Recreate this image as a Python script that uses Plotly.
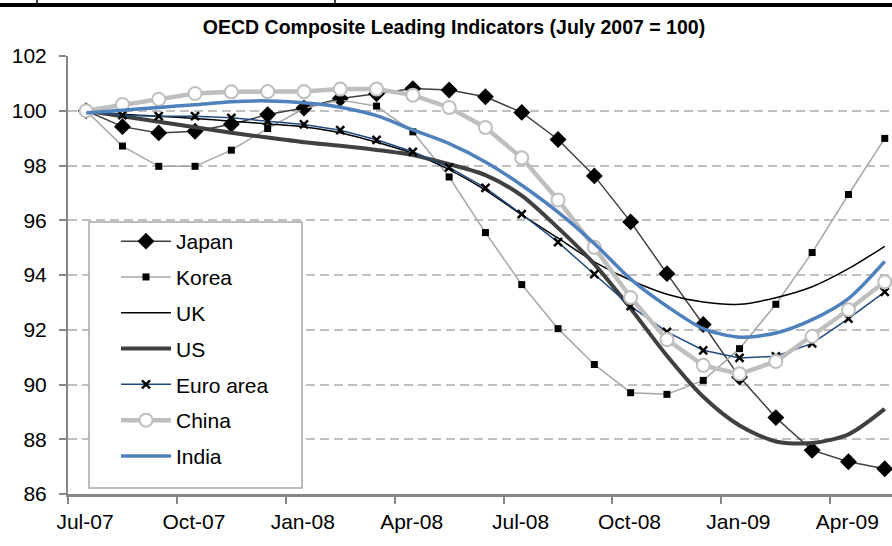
import plotly.graph_objects as go

months = ["Jul-07", "Aug-07", "Sep-07", "Oct-07", "Nov-07", "Dec-07",
          "Jan-08", "Feb-08", "Mar-08", "Apr-08", "May-08", "Jun-08",
          "Jul-08", "Aug-08", "Sep-08", "Oct-08", "Nov-08", "Dec-08",
          "Jan-09", "Feb-09", "Mar-09", "Apr-09", "May-09"]

japan = [100, 99.42, 99.19, 99.25, 99.51, 99.86, 100.1, 100.45, 100.62, 100.81, 100.76, 100.51,
         99.94, 98.95, 97.62, 95.94, 94.05, 92.19, 90.27, 88.79, 87.6, 87.18, 86.92]
korea = [100, 98.71, 97.97, 97.97, 98.56, 99.35, 100.08, 100.39, 100.17, 99.23, 97.58, 95.55,
         93.65, 92.04, 90.73, 89.70, 89.64, 90.15, 91.31, 92.93, 94.82, 96.94, 98.99]
uk = [100, 99.87, 99.8, 99.72, 99.62, 99.52, 99.41, 99.2, 98.85, 98.44, 97.85, 97.1,
      96.2, 95.35, 94.48, 93.81, 93.3, 93.01, 92.93, 93.17, 93.57, 94.23, 95.05]
us = [100, 99.8, 99.6, 99.4, 99.2, 99.02, 98.85, 98.72, 98.57, 98.38, 98.05, 97.65,
      96.9, 95.72, 94.4, 92.78, 91.05, 89.55, 88.5, 87.92, 87.86, 88.18, 89.11]
euro = [100, 99.84, 99.8, 99.8, 99.74, 99.62, 99.5, 99.29, 98.94, 98.5, 97.93, 97.18,
        96.22, 95.2, 94.03, 92.86, 91.92, 91.25, 90.97, 91.03, 91.5, 92.41, 93.38]
china = [100, 100.23, 100.42, 100.63, 100.69, 100.7, 100.7, 100.79, 100.79, 100.57, 100.12, 99.39,
         98.28, 96.74, 95.01, 93.18, 91.64, 90.7, 90.39, 90.84, 91.76, 92.73, 93.75]
india = [99.92, 100.02, 100.12, 100.22, 100.33, 100.36, 100.29, 100.13, 99.82, 99.3, 98.8, 98.13,
         97.28, 96.3, 95.15, 93.85, 92.86, 92.04, 91.73, 91.88, 92.37, 93.14, 94.5]

tick_labels = ["Jul-07", "Oct-07", "Jan-08", "Apr-08", "Jul-08", "Oct-08", "Jan-09", "Apr-09"]

x = list(range(len(months)))
FONT = "Liberation Sans, Arial, sans-serif"

fig = go.Figure()

def add(name, y, color, width, mode="lines", marker=None, shape="linear"):
    fig.add_trace(go.Scatter(
        x=x, y=y, name=name, mode=mode, legendgroup=name,
        line=dict(color=color, width=width, shape=shape, smoothing=0.8),
        marker=marker, customdata=months,
        hovertemplate="%{customdata}: %{y:.2f}<extra>" + name + "</extra>"))

add("Japan", japan, "#404040", 1.5, "lines+markers",
    dict(symbol="diamond", size=13, color="black"))
add("Korea", korea, "#a6a6a6", 1.5, "lines+markers",
    dict(symbol="square", size=7, color="black"))
add("UK", uk, "black", 1.5, shape="spline")
add("US", us, "#404040", 4, shape="spline")
add("Euro area", euro, "#1f497d", 1.5, "lines+markers",
    dict(symbol="x-thin-open", size=8, line=dict(color="black", width=2.5), color="black"))
add("China", china, "#bfbfbf", 4.5, "lines+markers",
    dict(symbol="circle", size=13, color="white", line=dict(color="#bfbfbf", width=2)))
add("India", india, "#4f81bd", 3.5, shape="spline")

L = 68
top_px = 56
bot_px = 494
plot_h = bot_px - top_px
plot_w = 892 - L

def px(xp):
    return (xp - L) / plot_w

def py(yp):
    return (bot_px - yp) / plot_h

fig.update_layout(
    width=892, height=546,
    margin=dict(l=L, r=0, t=top_px, b=546 - bot_px, autoexpand=False),
    paper_bgcolor="white", plot_bgcolor="white",
    font=dict(family=FONT, size=21, color="black"),
    title=dict(text="<b>OECD Composite Leading Indicators (July 2007 = 100)</b>",
               x=454 / 892, xanchor="center", xref="container",
               y=1 - 27 / 546, yanchor="middle", yref="container",
               font=dict(family=FONT, size=19.5, color="black")),
    showlegend=True,
    legend=dict(x=px(116), y=py(221), xanchor="left", yanchor="top",
                bgcolor="rgba(0,0,0,0)", borderwidth=0,
                font=dict(family=FONT, size=21, color="black"),
                tracegroupgap=5.5, itemwidth=50),
    xaxis=dict(range=[-0.5, 22.2], tickmode="array",
               tickvals=[i - 0.5 for i in range(0, 22, 3)],
               ticktext=tick_labels, ticklabelshift=17, ticklabelstandoff=0,
               ticks="outside", ticklen=7, tickwidth=1.5, tickcolor="#868686",
               showline=True, linecolor="#868686", linewidth=3,
               showgrid=False, zeroline=False, automargin=False,
               tickfont=dict(family=FONT, size=21, color="black")),
    yaxis=dict(range=[86, 102], tick0=86, dtick=2, ticks="outside", ticklen=7,
               tickwidth=1.5, tickcolor="#868686", ticklabelstandoff=8,
               showline=True, linecolor="#868686", linewidth=2,
               showgrid=True, gridcolor="#c0c0c0", gridwidth=1.5, griddash="9px,5px",
               zeroline=False, automargin=False,
               tickfont=dict(family=FONT, size=21, color="black")),
    shapes=[
        dict(type="rect", xref="paper", yref="paper", x0=px(89), x1=px(302),
             y0=py(488), y1=py(222), fillcolor="white", layer="above",
             line=dict(color="#a6a6a6", width=1.5)),
        dict(type="rect", xref="paper", yref="paper", x0=px(0), x1=px(892),
             y0=py(6.5), y1=py(3.5), fillcolor="black", layer="above",
             line=dict(color="black", width=1)),
        dict(type="line", xref="paper", yref="paper", x0=px(37), x1=px(37),
             y0=py(5), y1=py(0), line=dict(color="black", width=1.5)),
        dict(type="line", xref="paper", yref="paper", x0=px(335), x1=px(335),
             y0=py(5), y1=py(0), line=dict(color="black", width=1.5)),
    ],
)

fig.write_html("out.html",
               config={"displayModeBar": False},
               post_script="document.body.style.margin='0';document.body.style.overflow='hidden';")
